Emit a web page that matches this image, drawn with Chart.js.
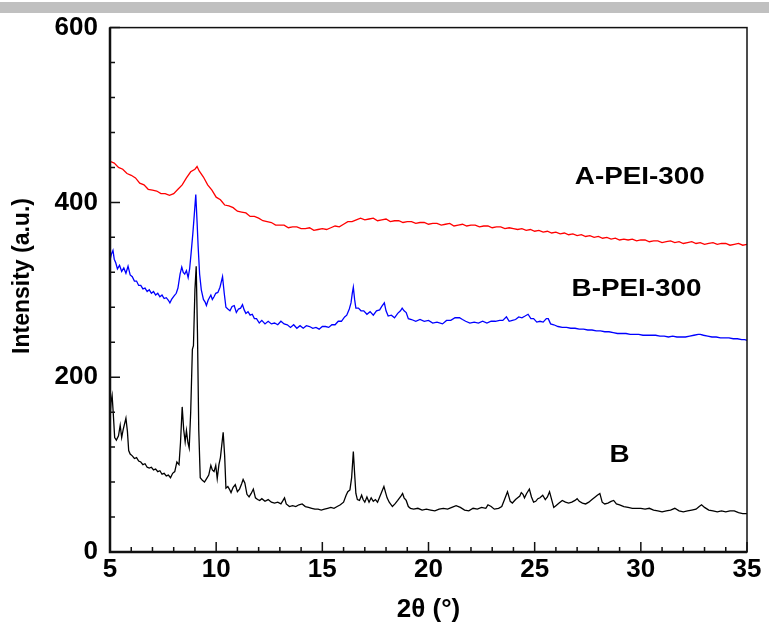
<!DOCTYPE html>
<html lang="en">
<head>
<meta charset="UTF-8">
<title>XRD patterns</title>
<script src="https://cdn.jsdelivr.net/npm/chart.js"></script>
<style>
  body { margin: 0; background: #fff; }
</style>
</head>
<body>
<canvas id="xrdChart" width="769" height="630"></canvas>
<script>
// 2theta (deg) / intensity (a.u.) for each sample
const apeiX = [5.0,5.2,5.4,5.6,5.8,6.0,6.2,6.4,6.6,6.8,7.0,7.2,7.4,7.6,7.8,8.0,8.2,8.4,8.6,8.8,9.0,9.1,9.2,9.4,9.6,9.8,
  10.0,10.2,10.4,10.6,10.8,11.0,11.2,11.4,11.6,11.8,12.0,12.2,12.4,12.6,12.8,13.0,13.2,13.4,13.6,13.8,14.0,14.2,14.4,14.6,14.8,
  15.0,15.2,15.4,15.6,15.8,16.0,16.2,16.4,16.6,16.8,17.0,17.2,17.4,17.6,17.8,18.0,18.2,18.4,18.6,18.8,19.0,19.2,19.4,19.6,19.8,
  20.0,20.2,20.4,20.6,20.8,21.0,21.2,21.4,21.6,21.8,22.0,22.2,22.4,22.6,22.8,23.0,23.2,23.4,23.6,23.8,24.0,24.2,24.4,24.6,24.8,
  25.0,25.2,25.4,25.6,25.8,26.0,26.2,26.4,26.6,26.8,27.0,27.2,27.4,27.6,27.8,28.0,28.2,28.4,28.6,28.8,29.0,29.2,29.4,29.6,29.8,
  30.0,30.2,30.4,30.6,30.8,31.0,31.2,31.4,31.6,31.8,32.0,32.2,32.4,32.6,32.8,33.0,33.2,33.4,33.6,33.8,34.0,34.2,34.4,34.6,34.8,35.0];
const apeiY = [447,445,440,438,433,431,428,422,420,415,414,413,410,410,408,410,415,420,428,435,438,441,436,429,420,414,
  406,403,397,396,394,390,389,388,384,384,382,379,378,377,374,374,374,371,372,372,370,370,371,368,369,
  370,369,371,373,372,375,378,378,380,382,380,381,382,379,380,381,378,379,379,377,378,378,376,377,377,
  375,376,376,374,375,376,373,374,375,373,374,374,372,373,373,371,372,372,370,371,370,369,370,368,369,
  367,368,366,367,365,366,364,365,363,364,362,363,361,362,360,361,359,360,358,359,357,358,357,358,356,
  357,357,355,356,356,354,355,356,354,355,353,354,355,353,354,352,353,354,352,353,353,351,352,353,351,352];

const bpeiX = [5.00,5.07,5.14,5.20,5.27,5.35,5.45,5.55,5.65,5.75,5.85,5.95,6.05,6.15,6.25,6.35,6.45,6.55,6.65,6.75,6.85,6.95,
  7.05,7.15,7.25,7.35,7.45,7.55,7.65,7.75,7.82,7.90,8.02,8.12,8.20,8.30,8.38,8.45,8.52,8.60,8.68,8.75,8.82,8.90,8.97,
  9.04,9.10,9.15,9.22,9.30,9.40,9.48,9.54,9.62,9.75,9.82,9.90,9.98,10.08,10.18,10.25,10.30,10.38,10.46,10.55,10.65,10.75,
  10.85,10.95,11.05,11.15,11.24,11.32,11.40,11.50,11.60,11.70,11.80,11.90,12.03,12.15,12.30,12.45,12.60,12.75,12.90,13.05,
  13.20,13.35,13.50,13.65,13.80,13.95,14.10,14.25,14.40,14.55,14.70,14.85,15.00,15.15,15.30,15.45,15.60,15.75,15.90,16.05,
  16.15,16.27,16.35,16.41,16.46,16.52,16.58,16.70,16.82,16.95,17.10,17.25,17.40,17.55,17.70,17.80,17.92,18.00,18.10,18.25,
  18.40,18.55,18.68,18.76,18.85,18.95,19.05,19.20,19.40,19.60,19.80,20.00,20.20,20.40,20.66,20.85,21.05,21.25,21.46,21.60,
  21.75,21.95,22.15,22.35,22.55,22.75,22.95,23.15,23.35,23.50,23.67,23.80,23.95,24.10,24.25,24.40,24.55,24.69,24.82,24.95,
  25.10,25.25,25.40,25.55,25.64,25.75,25.90,26.10,26.30,26.50,26.70,26.90,27.10,27.30,27.50,27.70,27.90,28.10,28.30,28.50,
  28.70,28.90,29.10,29.30,29.50,29.70,29.90,30.10,30.30,30.50,30.70,30.90,31.10,31.30,31.50,31.70,31.90,32.10,32.30,32.50,
  32.70,32.80,32.95,33.15,33.35,33.55,33.75,33.95,34.15,34.35,34.55,34.75,34.90,35.00];
const bpeiY = [334,341,345,335,331,324,328,321,325,319,327,317,315,310,310,305,305,301,302,298,300,296,
  298,294,296,292,294,290,291,288,285,289,293,296,302,318,326,320,318,322,314,324,342,364,386,
  409,378,350,318,300,289,286,282,288,294,289,292,296,297,303,310,315,296,280,278,276,281,
  282,274,278,279,283,277,273,275,271,272,267,267,262,265,261,264,261,262,260,264,
  261,260,257,260,256,259,256,259,258,256,257,255,258,258,257,260,260,264,264,269,
  271,278,285,296,303,289,279,279,276,276,272,275,271,276,277,281,285,276,270,271,
  268,273,276,279,276,274,267,266,264,266,264,265,262,263,261,265,265,268,268,266,
  264,262,263,262,264,262,264,264,265,265,269,264,265,266,269,268,270,272,267,267,
  263,264,263,267,267,261,260,258,257,257,256,256,255,255,254,254,253,253,252,252,
  251,250,250,250,249,249,249,248,248,248,248,247,247,246,247,246,246,246,247,248,
  249,249,248,247,246,246,245,245,245,244,244,243,243,242];

const bX = [5.00,5.05,5.10,5.15,5.22,5.30,5.40,5.48,5.55,5.62,5.75,5.82,5.88,5.95,6.05,6.15,6.25,6.35,6.45,6.55,6.65,6.75,
  6.85,6.95,7.05,7.15,7.25,7.35,7.45,7.55,7.65,7.75,7.85,7.95,8.05,8.15,8.25,8.32,8.40,8.47,8.54,8.60,8.67,8.73,8.80,8.88,
  8.93,9.00,9.06,9.12,9.18,9.25,9.35,9.45,9.55,9.65,9.75,9.82,9.90,9.98,10.05,10.13,10.20,10.33,10.40,10.46,10.55,10.62,
  10.70,10.80,10.90,11.00,11.10,11.20,11.27,11.35,11.45,11.55,11.65,11.75,11.85,11.95,12.05,12.15,12.30,12.45,12.60,12.75,
  12.90,13.05,13.15,13.22,13.30,13.45,13.60,13.75,13.90,14.05,14.20,14.35,14.50,14.65,14.80,14.95,15.10,15.25,15.40,15.55,
  15.70,15.85,16.00,16.12,16.20,16.30,16.38,16.46,16.52,16.58,16.65,16.75,16.85,16.92,17.00,17.10,17.20,17.30,17.40,17.50,
  17.60,17.70,17.80,17.90,17.98,18.05,18.15,18.30,18.42,18.55,18.70,18.78,18.85,18.95,19.05,19.15,19.30,19.50,19.70,19.90,
  20.10,20.30,20.50,20.70,20.90,21.10,21.30,21.50,21.70,21.90,22.10,22.30,22.50,22.70,22.80,22.95,23.10,23.30,23.45,23.58,
  23.72,23.85,23.95,24.10,24.20,24.30,24.37,24.45,24.52,24.62,24.75,24.85,24.95,25.05,25.15,25.25,25.38,25.50,25.60,25.70,
  25.80,25.90,26.00,26.15,26.30,26.45,26.60,26.75,26.90,27.00,27.10,27.25,27.40,27.55,27.70,27.85,27.95,28.07,28.18,28.30,
  28.45,28.60,28.72,28.85,29.00,29.20,29.40,29.60,29.80,30.00,30.20,30.40,30.60,30.80,31.00,31.20,31.40,31.60,31.80,32.00,
  32.20,32.40,32.60,32.75,32.86,33.00,33.20,33.40,33.60,33.80,34.00,34.20,34.40,34.60,34.80,35.00];
const bY = [150,172,179,160,131,128,133,145,131,140,153,138,116,112,110,107,108,104,103,100,101,97,
  96,97,94,95,92,93,89,90,87,88,85,90,92,103,100,125,166,140,126,139,125,119,160,232,
  236,300,327,250,140,85,82,80,84,88,99,94,92,99,84,100,108,137,110,73,75,72,
  68,74,77,69,72,78,83,79,66,63,67,72,62,60,59,61,58,60,57,56,
  57,55,59,62,55,52,53,52,54,55,52,51,50,49,49,48,49,50,51,50,
  52,54,57,65,69,71,85,115,90,67,60,59,65,60,57,63,57,62,58,60,
  57,63,69,75,68,62,57,52,55,59,64,67,62,59,52,50,49,50,48,49,
  48,47,49,50,49,51,53,51,48,47,50,49,51,50,54,52,49,50,52,60,
  69,58,56,60,62,64,68,66,62,67,72,63,57,58,61,62,65,60,63,69,
  60,51,53,56,59,57,56,57,59,61,58,56,55,57,60,63,65,67,57,55,
  56,58,59,55,54,52,51,50,50,50,49,50,48,47,46,47,48,50,47,46,
  47,48,49,52,54,51,48,47,46,47,46,47,47,45,44,44];

const seriesNames = ['A-PEI-300', 'B-PEI-300', 'B'];
const seriesColors = ['#ff0000', '#0000ff', '#000000'];

function toPoints(xs, ys) {
  return xs.map((x, i) => ({ x: x, y: ys[i] }));
}

// where the sample names sit, in data units
const nameSpots = [
  { x: 29.95, y: 429 },
  { x: 29.8, y: 301 },
  { x: 29.0, y: 110 }
];

const FONT = '"Liberation Sans", Arial, sans-serif';

const decor = {
  id: 'decor',
  beforeDraw(chart) {
    const ctx = chart.ctx;
    ctx.save();
    ctx.fillStyle = '#fff';
    ctx.fillRect(0, 0, chart.width, chart.height);
    ctx.fillStyle = '#c0c0c0';
    ctx.fillRect(0, 2, chart.width, 11);
    ctx.restore();
  },
  afterDraw(chart) {
    const ctx = chart.ctx;
    const a = chart.chartArea;
    const xs = chart.scales.x, ys = chart.scales.y;
    ctx.save();
    ctx.strokeStyle = '#111';
    // frame
    ctx.lineWidth = 1.5;
    ctx.strokeRect(a.left, a.top, a.right - a.left, a.bottom - a.top);
    ctx.lineWidth = 2.5;
    ctx.beginPath();
    ctx.moveTo(a.left, a.top);
    ctx.lineTo(a.left, a.bottom);
    ctx.lineTo(a.right, a.bottom);
    ctx.stroke();
    // inward ticks
    ctx.lineWidth = 1.5;
    ctx.beginPath();
    for (let v = 5; v <= 35; v++) {
      const px = xs.getPixelForValue(v);
      const len = v % 5 === 0 ? 10 : 5;
      ctx.moveTo(px, a.bottom);
      ctx.lineTo(px, a.bottom - len);
    }
    for (let v = 0; v <= 600; v += 40) {
      const py = ys.getPixelForValue(v);
      const len = v % 200 === 0 ? 10 : 5;
      ctx.moveTo(a.left, py);
      ctx.lineTo(a.left + len, py);
    }
    ctx.stroke();
    ctx.fillStyle = '#000';
    ctx.textAlign = 'center';
    ctx.textBaseline = 'middle';
    // y axis title, sits a bit above the middle of the axis
    ctx.save();
    ctx.font = 'bold 23px ' + FONT;
    ctx.translate(23, 276);
    ctx.rotate(-Math.PI / 2);
    ctx.fillText('Intensity (a.u.)', 0, 0);
    ctx.restore();
    // sample names
    ctx.font = 'bold 24px ' + FONT;
    nameSpots.forEach((p, i) => {
      ctx.save();
      ctx.translate(xs.getPixelForValue(p.x), ys.getPixelForValue(p.y));
      ctx.scale(1.16, 1);
      ctx.fillText(seriesNames[i], 0, 0);
      ctx.restore();
    });
    ctx.restore();
  }
};

const ctx = document.querySelector('#xrdChart');
const tickFont = { family: FONT, size: 26, weight: 'bold' };

new Chart(ctx, {
  type: 'line',
  data: {
    datasets: [
      { label: seriesNames[0], data: toPoints(apeiX, apeiY), borderColor: seriesColors[0] },
      { label: seriesNames[1], data: toPoints(bpeiX, bpeiY), borderColor: seriesColors[1] },
      { label: seriesNames[2], data: toPoints(bX, bY), borderColor: seriesColors[2] }
    ]
  },
  options: {
    responsive: false,
    animation: false,
    events: [],
    layout: { padding: { top: 27, right: 22, left: 0, bottom: 0 } },
    elements: {
      point: { radius: 0 },
      line: { borderWidth: 1.3, tension: 0, fill: false }
    },
    plugins: {
      legend: { display: false },
      tooltip: { enabled: false }
    },
    scales: {
      x: {
        type: 'linear',
        min: 5,
        max: 35,
        border: { display: false },
        grid: { display: false, drawTicks: false },
        ticks: { stepSize: 5, color: '#000', font: tickFont, padding: 2, maxRotation: 0 },
        title: {
          display: true,
          text: '2θ (°)',
          color: '#000',
          font: { family: FONT, size: 26, weight: 'bold' },
          padding: { top: 0, bottom: 5 }
        },
        afterFit(scale) { scale.height = 78; }
      },
      y: {
        min: 0,
        max: 600,
        border: { display: false },
        grid: { display: false, drawTicks: false },
        ticks: { stepSize: 200, color: '#000', font: tickFont, padding: 12 },
        afterFit(scale) { scale.width = 110; }
      }
    }
  },
  plugins: [decor]
});
</script>
</body>
</html>
